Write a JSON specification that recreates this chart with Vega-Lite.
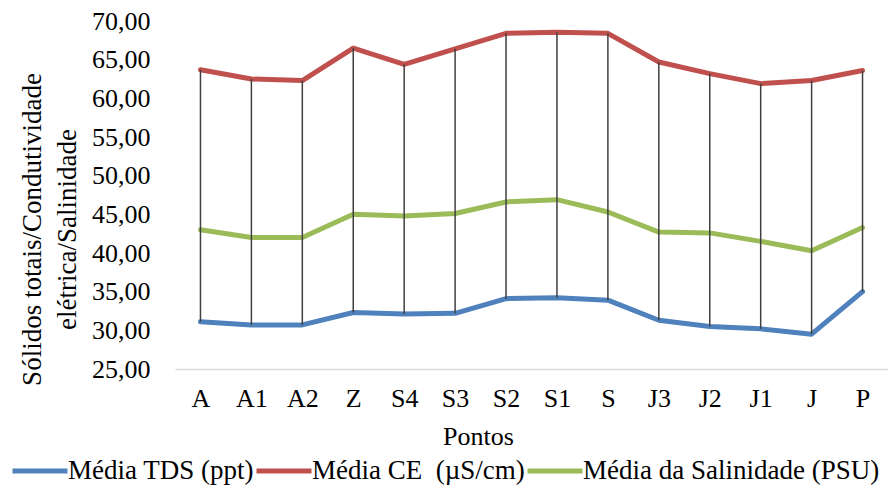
{
  "$schema": "https://vega.github.io/schema/vega-lite/v6.json",
  "width": 713,
  "height": 348,
  "autosize": {"type": "none"},
  "padding": {"left": 175, "top": 21, "right": 0, "bottom": 116},
  "background": "white",
  "config": {
    "view": {"stroke": null},
    "font": "Liberation Serif",
    "axis": {"labelFont": "Liberation Serif", "titleFont": "Liberation Serif", "labelColor": "#000000", "titleColor": "#000000", "titleFontWeight": "normal"},
    "legend": {"labelFont": "Liberation Serif", "labelColor": "#000000"}
  },
  "data": {
    "values": [
      {"Ponto": "A", "TDS": 31.1, "CE": 63.7, "Salinidade": 43.0},
      {"Ponto": "A1", "TDS": 30.7, "CE": 62.5, "Salinidade": 42.0},
      {"Ponto": "A2", "TDS": 30.7, "CE": 62.3, "Salinidade": 42.0},
      {"Ponto": "Z", "TDS": 32.3, "CE": 66.5, "Salinidade": 45.0},
      {"Ponto": "S4", "TDS": 32.1, "CE": 64.4, "Salinidade": 44.8},
      {"Ponto": "S3", "TDS": 32.2, "CE": 66.4, "Salinidade": 45.1},
      {"Ponto": "S2", "TDS": 34.1, "CE": 68.4, "Salinidade": 46.6},
      {"Ponto": "S1", "TDS": 34.2, "CE": 68.55, "Salinidade": 46.9},
      {"Ponto": "S", "TDS": 33.9, "CE": 68.4, "Salinidade": 45.3},
      {"Ponto": "J3", "TDS": 31.3, "CE": 64.7, "Salinidade": 42.7},
      {"Ponto": "J2", "TDS": 30.5, "CE": 63.2, "Salinidade": 42.6},
      {"Ponto": "J1", "TDS": 30.2, "CE": 61.9, "Salinidade": 41.5},
      {"Ponto": "J", "TDS": 29.5, "CE": 62.3, "Salinidade": 40.3},
      {"Ponto": "P", "TDS": 35.0, "CE": 63.6, "Salinidade": 43.3}
    ]
  },
  "encoding": {
    "x": {
      "field": "Ponto",
      "type": "nominal",
      "sort": null,
      "scale": {"type": "point", "padding": 0.5},
      "axis": {
        "title": "Pontos",
        "titleFontSize": 26,
        "titleX": 303,
        "titleY": 67,
        "titleAlign": "center",
        "titleBaseline": "middle",
        "labelFontSize": 26,
        "labelAngle": 0,
        "labelPadding": 16,
        "ticks": false,
        "grid": false,
        "domainColor": "#D9D9D9",
        "domainWidth": 1.5
      }
    }
  },
  "layer": [
    {
      "transform": [{"fold": ["TDS", "CE", "Salinidade"], "as": ["Serie", "Valor"]}],
      "mark": {"type": "line", "strokeWidth": 5, "strokeCap": "round", "strokeJoin": "round"},
      "encoding": {
        "y": {
          "field": "Valor",
          "type": "quantitative",
          "scale": {"domain": [25, 70], "nice": false, "zero": false},
          "axis": {
            "title": ["Sólidos totais/Condutividade", "elétrica/Salinidade"],
            "titleFontSize": 27,
            "titleLineHeight": 35,
            "titleAngle": -90,
            "titleAlign": "center",
            "titleBaseline": "bottom",
            "titleX": -129,
            "titleY": 208,
            "values": [25, 30, 35, 40, 45, 50, 55, 60, 65, 70],
            "labelExpr": "replace(format(datum.value, '.2f'), '.', ',')",
            "labelFontSize": 26,
            "labelPadding": 25,
            "ticks": false,
            "grid": false,
            "domain": false
          }
        },
        "color": {
          "field": "Serie",
          "type": "nominal",
          "scale": {"domain": ["TDS", "CE", "Salinidade"], "range": ["#4F81BD", "#C0504D", "#9BBB59"]},
          "legend": {
            "orient": "none",
            "direction": "horizontal",
            "legendX": -165,
            "legendY": 420,
            "title": null,
            "symbolType": "stroke",
            "symbolSize": 3025,
            "symbolStrokeWidth": 5,
            "labelFontSize": 27,
            "labelOffset": -2,
            "labelLimit": 400,
            "columnPadding": -13,
            "labelExpr": "datum.label == 'TDS' ? 'Média TDS (ppt)' : datum.label == 'CE' ? 'Média CE \u00a0(µS/cm)' : 'Média da Salinidade (PSU)'"
          }
        }
      }
    },
    {
      "mark": {"type": "rule", "color": "#404040", "strokeWidth": 1.5},
      "encoding": {
        "y": {
          "field": "CE",
          "type": "quantitative",
          "axis": {
            "title": ["Sólidos totais/Condutividade", "elétrica/Salinidade"],
            "titleFontSize": 27,
            "titleLineHeight": 35,
            "titleAngle": -90,
            "titleAlign": "center",
            "titleBaseline": "bottom",
            "titleX": -129,
            "titleY": 208,
            "values": [25, 30, 35, 40, 45, 50, 55, 60, 65, 70],
            "labelExpr": "replace(format(datum.value, '.2f'), '.', ',')",
            "labelFontSize": 26,
            "labelPadding": 25,
            "ticks": false,
            "grid": false,
            "domain": false
          }
        },
        "y2": {"field": "TDS"}
      }
    }
  ]
}
